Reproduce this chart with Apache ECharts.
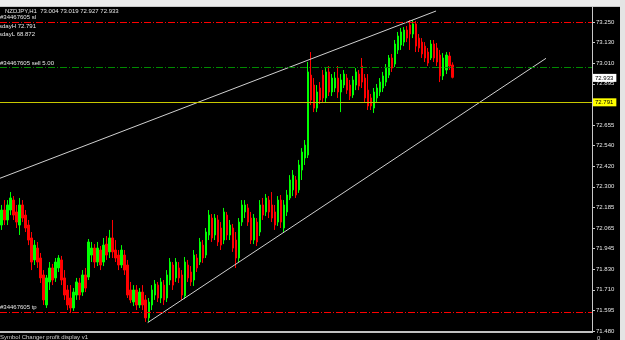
<!DOCTYPE html>
<html><head><meta charset="utf-8">
<script src="https://cdn.jsdelivr.net/npm/echarts@6/dist/echarts.min.js"></script>
<style>html,body{margin:0;padding:0;background:#000;}#c{width:625px;height:340px;}</style>
</head><body><div id="c"></div>
<script>
// ---------- data ----------
const symbolTitle = 'NZDJPY,H1  73.004 73.019 72.927 72.933';
const tickLabels = ['71.480','71.595','71.710','71.830','71.945','72.065','72.185','72.300','72.420','72.540','72.655','72.775','72.895','73.010','73.130','73.250'];
const slotCount = 197; // bar slots across the chart window (bars + empty right margin)

const opens = [
72.087,72.173,72.116,72.173,72.230,72.162,72.087,72.202,72.144,72.087,
72.013,71.887,71.955,71.898,71.801,71.629,71.761,71.841,71.784,71.841,
71.887,71.784,71.715,71.669,71.612,71.686,71.755,71.703,71.801,71.789,
71.915,71.955,71.875,71.944,71.875,71.978,71.933,72.013,71.944,71.915,
71.858,71.915,71.858,71.715,71.646,71.715,71.629,71.703,71.658,71.555,
71.629,71.686,71.743,71.669,71.743,71.669,71.772,71.858,71.784,71.841,
71.801,71.681,71.858,71.818,71.772,71.898,71.875,71.972,71.915,72.030,
72.127,72.030,72.116,72.070,72.001,72.144,72.030,72.070,72.001,71.898,
72.104,72.162,72.185,72.127,72.001,72.104,72.047,72.202,72.162,72.230,
72.202,72.162,72.104,72.230,72.070,72.162,72.242,72.288,72.345,72.288,
72.402,72.471,72.488,72.946,72.889,72.757,72.872,72.946,72.815,72.964,
72.849,72.872,72.929,72.849,72.889,72.929,72.889,72.832,72.889,72.952,
72.998,72.929,72.860,72.815,72.757,72.815,72.849,72.872,72.906,72.946,
73.044,73.009,73.090,73.118,73.135,73.204,73.233,73.181,73.239,73.158,
73.135,73.112,73.078,73.044,73.124,73.101,73.061,72.941,72.975,73.055,
73.004];
const closes = [
72.173,72.116,72.202,72.242,72.144,72.104,72.202,72.127,72.070,72.001,
71.875,71.972,71.875,71.784,71.658,71.784,71.841,71.772,71.875,71.898,
71.772,71.686,71.629,71.612,71.703,71.761,71.686,71.801,71.726,71.990,
71.955,71.875,71.955,71.858,71.972,71.915,72.013,71.933,71.898,71.858,
71.944,71.829,71.686,71.658,71.715,71.629,71.703,71.629,71.555,71.646,
71.715,71.749,71.669,71.761,71.658,71.801,71.875,71.743,71.875,71.784,
71.686,71.875,71.784,71.761,71.915,71.841,71.990,71.898,72.047,72.144,
72.013,72.127,71.990,71.972,72.162,72.030,72.087,71.955,71.898,72.104,
72.202,72.202,72.104,72.001,72.127,71.990,72.202,72.144,72.242,72.162,
72.127,72.087,72.230,72.104,72.202,72.259,72.345,72.373,72.259,72.431,
72.505,72.545,72.964,72.803,72.757,72.849,72.803,72.815,72.964,72.849,
72.929,72.929,72.849,72.918,72.952,72.860,72.826,72.918,72.964,72.883,
72.906,72.815,72.769,72.769,72.849,72.872,72.906,72.941,72.986,73.044,
72.986,73.124,73.170,73.193,73.204,73.158,73.181,73.239,73.112,73.101,
73.067,73.044,73.015,73.124,73.044,73.021,72.941,73.044,73.061,72.998,
72.933];
const highs = [
72.202,72.230,72.230,72.276,72.253,72.202,72.242,72.230,72.173,72.116,
72.047,72.001,71.990,71.927,71.829,71.801,71.875,71.864,71.898,71.915,
71.910,71.829,71.743,71.743,71.726,71.784,71.784,71.829,71.841,72.007,
71.990,71.978,71.990,71.967,72.013,72.024,72.059,72.116,72.001,71.944,
71.972,71.944,71.887,71.761,71.743,71.743,71.726,71.743,71.686,71.669,
71.743,71.772,71.761,71.784,71.772,71.829,71.898,71.875,71.898,71.875,
71.829,71.904,71.887,71.852,71.944,71.921,72.013,72.001,72.070,72.173,
72.150,72.150,72.144,72.104,72.185,72.162,72.116,72.093,72.047,72.127,
72.230,72.230,72.208,72.162,72.150,72.127,72.230,72.242,72.265,72.253,
72.276,72.202,72.253,72.259,72.230,72.288,72.373,72.402,72.368,72.460,
72.528,72.574,73.021,73.078,72.929,72.889,72.906,72.975,72.986,72.998,
72.952,72.964,72.998,72.952,72.975,72.952,72.918,72.941,72.986,72.975,
73.044,72.952,72.952,72.838,72.872,72.895,72.929,72.964,73.009,73.061,
73.067,73.147,73.193,73.216,73.221,73.227,73.261,73.261,73.256,73.181,
73.158,73.135,73.101,73.147,73.147,73.130,73.090,73.072,73.078,73.078,
73.019];
const lows = [
72.059,72.087,72.087,72.144,72.116,72.070,72.030,72.104,72.047,71.972,
71.829,71.858,71.841,71.755,71.629,71.612,71.715,71.743,71.761,71.818,
71.743,71.658,71.600,71.583,71.595,71.658,71.658,71.681,71.703,71.772,
71.875,71.841,71.852,71.829,71.852,71.887,71.898,71.898,71.875,71.829,
71.841,71.801,71.669,71.640,71.623,71.600,71.612,71.600,71.532,71.532,
71.600,71.658,71.646,71.640,71.629,71.646,71.743,71.715,71.761,71.755,
71.658,71.663,71.761,71.738,71.738,71.818,71.858,71.870,71.898,72.001,
71.990,72.001,71.967,71.944,71.978,72.001,72.001,71.933,71.841,71.875,
72.082,72.127,72.082,71.978,71.978,71.967,72.024,72.116,72.139,72.127,
72.104,72.059,72.082,72.070,72.047,72.139,72.230,72.253,72.242,72.271,
72.345,72.431,72.471,72.774,72.734,72.734,72.780,72.792,72.792,72.826,
72.826,72.849,72.815,72.734,72.872,72.838,72.803,72.815,72.860,72.860,
72.872,72.792,72.746,72.746,72.729,72.792,72.826,72.849,72.883,72.929,
72.964,72.992,73.067,73.090,73.112,73.135,73.090,73.158,73.078,73.078,
73.044,73.021,72.998,73.032,73.021,72.998,72.906,72.918,72.952,72.975,
72.927];

// trend lines (bar index, price)
const upperTrendBars = [-0.5, 144.6];
const upperTrendPrices = [72.355, 73.313];
const lowerTrendBars = [48.65, 181.2];
const lowerTrendPrices = [71.528, 73.042];

// horizontal levels
const slLevel = 73.255;
const sellLevel = 72.988;
const tpLevel = 71.595;
const dayHighLevel = 72.791;
const lastClose = 72.933;

const slText = '#34467605 sl';
const sellText = '#34467605 sell 5.00';
const tpText = '#34467605 tp';
const dayHText = 'sdayH 72.791';
const dayLText = 'sdayL 68.872';
const footerText = 'Symbol Changer profit display v1';

// ---------- chart ----------
const chart = echarts.init(document.getElementById('c'), null, {renderer:'canvas'});
const candleData = opens.map((o, i) => [i, o, closes[i], lows[i], highs[i]]);
const FONT = '"Liberation Sans", Arial, sans-serif';
const txt = (text, x, y, fill) => ({type:'text', x, y, silent:true, z:50,
  style:{text, fill: fill || '#e6e6e6', fontSize:6, fontFamily:FONT, verticalAlign:'middle'}});

const option = {
  backgroundColor:'#000',
  animation:false,
  grid:{left:0, right:33, top:7, bottom:9},
  xAxis:{type:'value', min:-0.5, max:slotCount-0.5, show:false},
  yAxis:[
    {type:'value', min:71.480, max:73.336, show:false},
    {type:'value', min:0, max:15.728, position:'right',
      axisLine:{show:true, lineStyle:{color:'#c8c8c8', width:1}},
      axisTick:{show:true, length:3, lineStyle:{color:'#c8c8c8'}, customValues: tickLabels.map((_, k) => k)},
      axisLabel:{color:'#e6e6e6', fontSize:6, fontFamily:FONT, margin:4,
        customValues: tickLabels.map((_, k) => k),
        formatter: v => tickLabels[Math.round(v)] || ''},
      splitLine:{show:false}}
  ],
  series:[
    {type:'candlestick', data:candleData, encode:{x:0, y:[1,2,3,4]}, barWidth:2,
      itemStyle:{color:'#00ff00', color0:'#ff0000', borderColor:'#00ff00', borderColor0:'#ff0000', borderWidth:1},
      markLine:{symbol:'none', silent:true, animation:false,
        data:[
          {yAxis:slLevel, lineStyle:{color:'#ff0000', type:[7,2,1,2], width:1}, label:{show:false}},
          {yAxis:sellLevel, lineStyle:{color:'#008a00', type:[7,2,1,2], width:1}, label:{show:false}},
          {yAxis:tpLevel, lineStyle:{color:'#ff0000', type:[7,2,1,2], width:1}, label:{show:false}},
          {yAxis:dayHighLevel, lineStyle:{color:'#c8c800', type:'solid', width:1},
            label:{show:true, position:'end', distance:1, formatter: dayHighLevel.toFixed(3),
              backgroundColor:'#ffff00', color:'#000', fontSize:6, fontFamily:FONT, padding:[1,3,1,2]}},
          {yAxis:lastClose, lineStyle:{color:'rgba(0,0,0,0)', width:0},
            label:{show:true, position:'end', distance:1, formatter: lastClose.toFixed(3),
              backgroundColor:'#ffffff', color:'#000', fontSize:6, fontFamily:FONT, padding:[1,3,1,2]}}
        ]}
    },
    {type:'line', data: upperTrendBars.map((b, k) => [b, upperTrendPrices[k]]), symbol:'none',
      lineStyle:{color:'#d0d0d0', width:1}, silent:true, z:3},
    {type:'line', data: lowerTrendBars.map((b, k) => [b, lowerTrendPrices[k]]), symbol:'none',
      lineStyle:{color:'#d0d0d0', width:1}, silent:true, z:3}
  ],
  graphic:{elements:[
    {type:'rect', shape:{x:0, y:0, width:625, height:6}, style:{fill:'#ececec'}, silent:true, z:40},
    {type:'line', shape:{x1:0, y1:6.5, x2:620, y2:6.5}, style:{stroke:'#c8c8c8', lineWidth:1}, silent:true, z:40},
    {type:'rect', shape:{x:620, y:0, width:5, height:340}, style:{fill:'#e4e4e4'}, silent:true, z:40},
    {type:'rect', shape:{x:0, y:331, width:593, height:2}, style:{fill:'#c0c0c0'}, silent:true, z:40},
    txt(symbolTitle, 5, 11),
    txt(slText, 0, 17),
    txt(dayHText, -1, 26),
    txt(dayLText, -1, 34),
    txt(sellText, 0, 63.5),
    txt(tpText, 0, 307.5),
    txt(footerText, 0, 337.5, '#d0d0d0'),
    txt('0', 597, 338, '#d0d0d0')
  ]}
};
chart.setOption(option);
</script>
</body></html>
